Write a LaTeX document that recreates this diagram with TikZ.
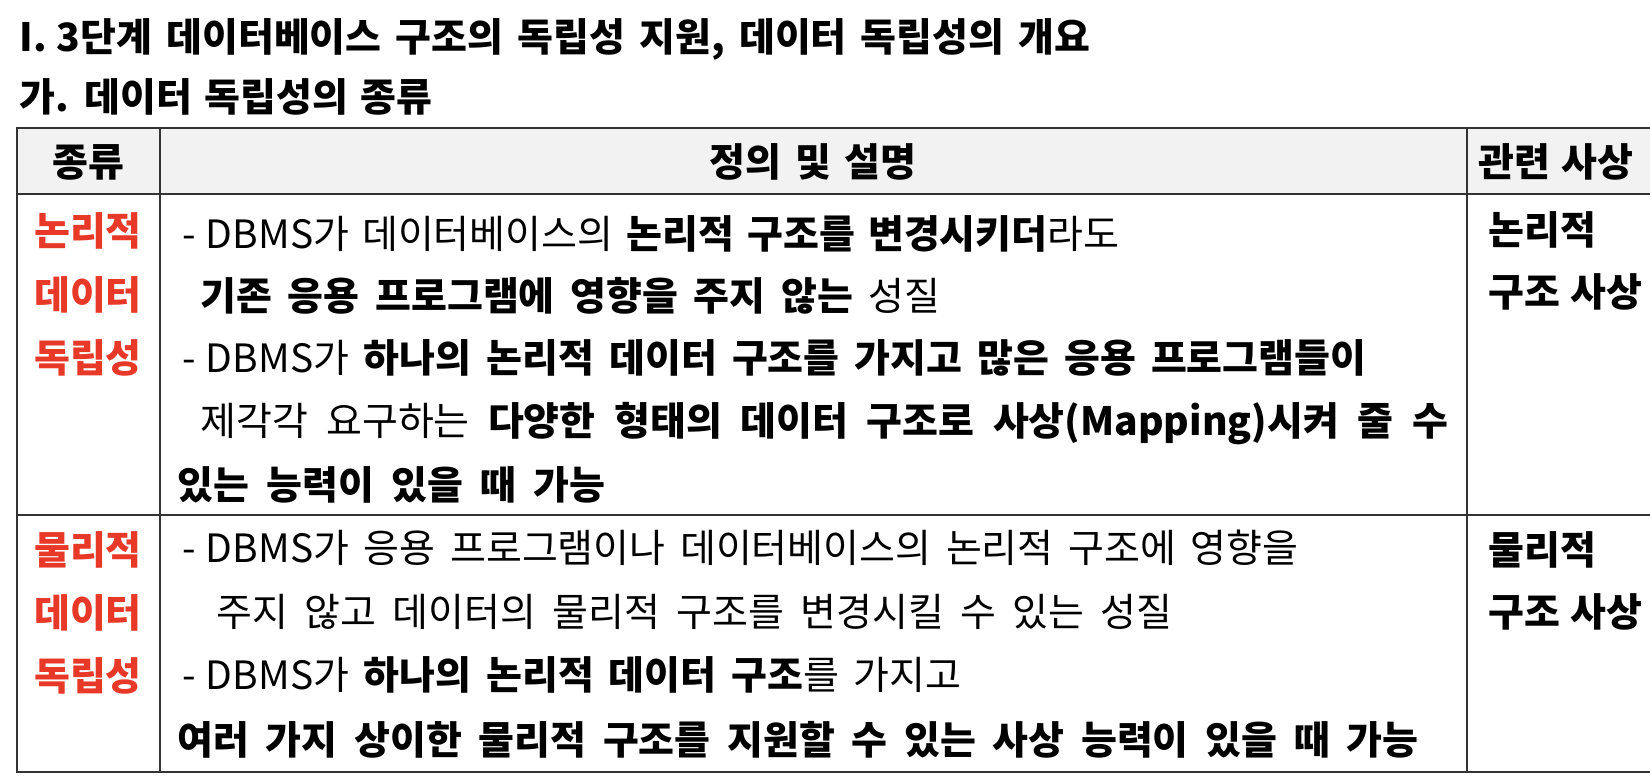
\documentclass[tikz,border=0pt]{standalone}
\usepackage{fontspec}
\setmainfont{Noto Sans CJK KR}[WordSpace=1.5]
\definecolor{kindred}{RGB}{232,56,40}
\definecolor{headgray}{RGB}{242,242,242}
\newcommand\bodyfont{\fontsize{19.5pt}{22pt}\selectfont}
\newcommand\titlefont{\fontsize{19.5pt}{22pt}\selectfont\bfseries}
\newcommand\spread[2]{\makebox[#1pt][s]{#2}}
\newcommand\dash{-\hspace{5pt}}
\begin{document}
\begin{tikzpicture}[x=0.5pt,y=-0.5pt,
  line/.style={anchor=base west,inner sep=0pt,font=\bodyfont},
  kind/.style={anchor=base,inner sep=0pt,font=\bodyfont\bfseries,text=kindred},
  head/.style={anchor=base,inner sep=0pt,font=\bodyfont\bfseries},
  rule/.style={line width=1.1pt,draw=black!80}]
  \useasboundingbox (0,0) rectangle (1650,782);
  % titles
  \node[line,font=\titlefont] (title) at (19,51) {\spread{535.5}{I.\hspace{5pt}3단계 데이터베이스 구조의 독립성 지원, 데이터 독립성의 개요}};
  \node[line,font=\titlefont] (subtitle) at (19,111) {\spread{206.5}{가. 데이터 독립성의 종류}};
  % table frame
  \fill[headgray] (17,128) rectangle (1650,194);
  \draw[rule] (1650,128) -- (17,128) -- (17,772) -- (1650,772);
  \draw[rule] (17,194) -- (1650,194);
  \draw[rule] (17,515) -- (1650,515);
  \draw[rule] (160,128) -- (160,772);
  \draw[rule] (1467,128) -- (1467,772);
  % header
  \node[head] (hkind) at (88,176) {종류};
  \node[head] (hdef) at (813,176) {정의 및 설명};
  \node[head,anchor=base west] (hmap) at (1478,176) {\spread{77.5}{관련 사상}};
  % logical
  \node[kind] (lk1) at (88,245) {논리적};
  \node[kind] (lk2) at (88,309) {데이터};
  \node[kind] (lk3) at (88,372) {독립성};
  \node[line] (l1) at (182,248) {\spread{468.5}{\dash DBMS가 데이터베이스의 \textbf{논리적 구조를 변경시키더}라도}};
  \node[line] (l2) at (200,310) {\spread{370}{\textbf{기존 응용 프로그램에 영향을 주지 않는} 성질}};
  \node[line] (l3) at (182,372) {\spread{592}{\dash DBMS가 \textbf{하나의 논리적 데이터 구조를 가지고 많은 응용 프로그램들이}}};
  \node[line] (l4) at (200,435) {\spread{624}{제각각 요구하는 \textbf{다양한 형태의 데이터 구조로 사상(Mapping)시켜 줄 수}}};
  \node[line] (l5) at (177,499) {\spread{214}{\textbf{있는 능력이 있을 때 가능}}};
  \node[line,font=\bodyfont\bfseries] (lm1) at (1488,244) {논리적};
  \node[line,font=\bodyfont\bfseries] (lm2) at (1488,306) {\spread{77}{구조 사상}};
  % physical
  \node[kind] (pk1) at (88,564) {물리적};
  \node[kind] (pk2) at (88,627) {데이터};
  \node[kind] (pk3) at (88,690) {독립성};
  \node[line] (p1) at (182,562) {\spread{558}{\dash DBMS가 응용 프로그램이나 데이터베이스의 논리적 구조에 영향을}};
  \node[line] (p2) at (216,626) {\spread{478}{주지 않고 데이터의 물리적 구조를 변경시킬 수 있는 성질}};
  \node[line] (p3) at (182,689) {\spread{389.5}{\dash DBMS가 \textbf{하나의 논리적 데이터 구조}를 가지고}};
  \node[line] (p4) at (177,754) {\spread{620.5}{\textbf{여러 가지 상이한 물리적 구조를 지원할 수 있는 사상 능력이 있을 때 가능}}};
  \node[line,font=\bodyfont\bfseries] (pm1) at (1488,564) {물리적};
  \node[line,font=\bodyfont\bfseries] (pm2) at (1488,626) {\spread{77}{구조 사상}};
\end{tikzpicture}
\end{document}
